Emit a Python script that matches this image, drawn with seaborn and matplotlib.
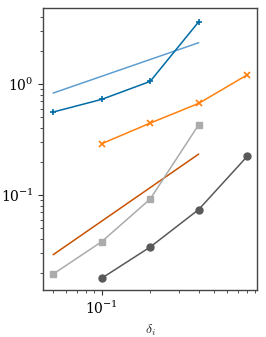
import matplotlib
matplotlib.use("Agg")
import matplotlib.pyplot as plt
import seaborn as sns
import pandas as pd

# Data
x_a = [0.05, 0.1, 0.2, 0.4]
y_blue = [0.56, 0.728, 1.057, 3.64]
x_ref1 = [0.05, 0.4]
y_ref1 = [0.83, 2.36]
x_b = [0.1, 0.2, 0.4, 0.8]
y_orange = [0.29, 0.445, 0.67, 1.21]
x_ref2 = [0.05, 0.4]
y_ref2 = [0.029, 0.234]
y_lgray = [0.0194, 0.038, 0.092, 0.43]
y_dgray = [0.0178, 0.034, 0.074, 0.223]

sns.set_style("ticks")
plt.rcParams["mathtext.fontset"] = "cm"
plt.rcParams["font.family"] = ["DejaVu Serif"]

fig = plt.figure(figsize=(2.66, 3.37), dpi=100)
ax = fig.add_axes([0.162, 0.139, 0.804, 0.837])

def draw(x, y, color, marker=None, ms=4, mew=1.0):
    df = pd.DataFrame({"x": x, "y": y})
    sns.lineplot(data=df, x="x", y="y", ax=ax, color=color, marker=marker,
                 markersize=ms, markeredgewidth=mew, markeredgecolor=color,
                 linewidth=1.1, estimator=None, sort=False)

draw(x_ref1, y_ref1, "#5F9ED1")
draw(x_a, y_blue, "#006BA4", marker="+", ms=5, mew=1.2)
draw(x_b, y_orange, "#FF800E", marker="x", ms=5, mew=1.2)
draw(x_ref2, y_ref2, "#C85200")
draw(x_a, y_lgray, "#ABABAB", marker="s", ms=5)
draw(x_b, y_dgray, "#595959", marker="o", ms=5)

ax.set_xscale("log")
ax.set_yscale("log")
ax.set_xlim(0.0433, 0.92)
ax.set_ylim(0.0139, 4.84)
ax.set_xlabel(r"$\delta_i$", fontsize=10)
ax.set_ylabel("")
ax.tick_params(labelsize=10, colors="#333333", labelcolor="black")
ax.tick_params(which="minor", colors="#333333")
for s in ax.spines.values():
    s.set_color("#444444")
    s.set_linewidth(1.0)

fig.savefig("out.png", dpi=100)
